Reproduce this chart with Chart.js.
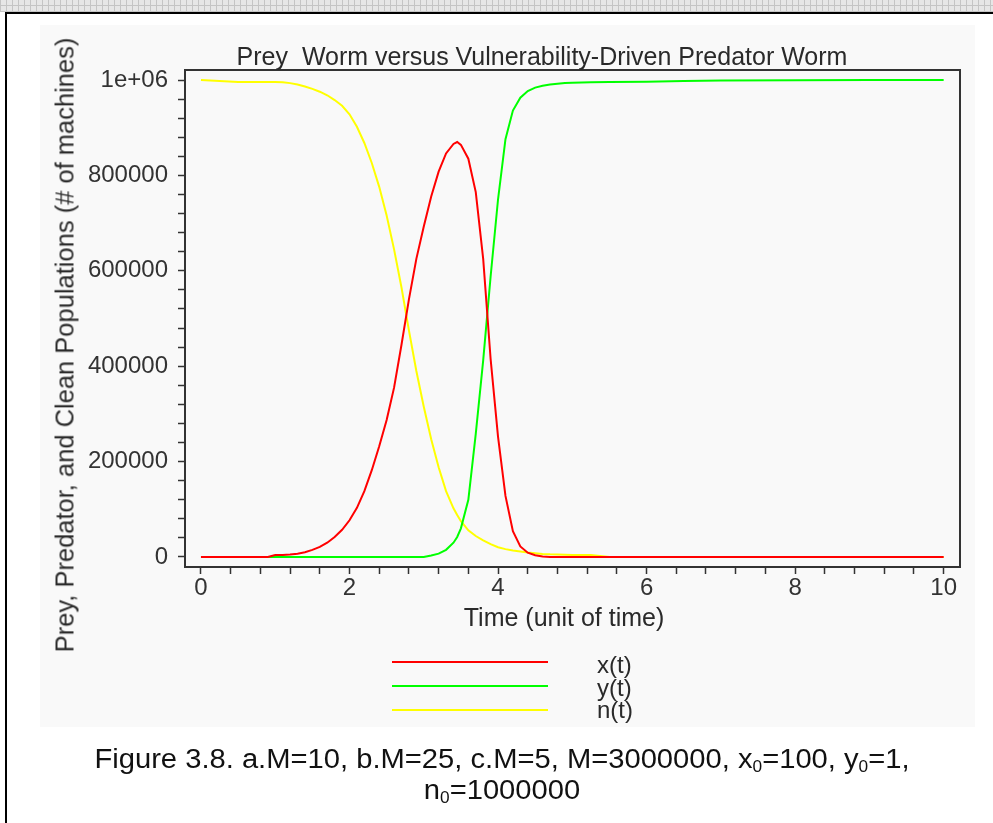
<!DOCTYPE html>
<html>
<head>
<meta charset="utf-8">
<script src="https://cdn.jsdelivr.net/npm/chart.js@4.4.1/dist/chart.umd.min.js"></script>
<style>
  html, body { margin: 0; padding: 0; background: #fff; }
  body {
    width: 993px; height: 823px; position: relative; overflow: hidden;
    font-family: "Liberation Sans", Arial, sans-serif; color: #2a2a2a;
  }
  #strip {
    position: absolute; left: 0; top: 0; width: 993px; height: 12px;
    background-color: #e6e6e6;
    background-image:
      repeating-linear-gradient(90deg, #c4c4c4 0 1px, transparent 1px 6px),
      repeating-linear-gradient(0deg, #c4c4c4 0 1px, transparent 1px 6px);
  }
  #frame {
    position: absolute; left: 5px; top: 12px; width: 1000px; height: 830px;
    border-left: 2px solid #000; border-top: 2px solid #000;
  }
  #panel { position: absolute; left: 40px; top: 25px; width: 935px; height: 702px; background: #f9f9f9; }
  canvas { position: absolute; left: 0; top: 0; }
  .txt { position: absolute; white-space: pre; transform: translate(-50%, -50%); }
  .legline { position: absolute; left: 392px; width: 156px; height: 2px; }
  .legtxt { position: absolute; left: 597px; font-size: 24px; line-height: 24px; transform: translateY(-50%); }
  .cap {
    position: absolute; left: 502px; white-space: nowrap; font-size: 27px; color: #111;
    transform: translate(-50%, -50%) scaleX(1.08);
  }
  .cap sub { font-size: 16px; vertical-align: -4px; }
</style>
</head>
<body>
<div id="strip"></div>
<div id="frame"></div>
<div id="panel"></div>
<canvas id="chart" width="993" height="823"></canvas>

<div class="txt" style="left:542px; top:56px; font-size:25px;">Prey  Worm versus Vulnerability-Driven Predator Worm</div>
<div class="txt" style="left:564px; top:617px; font-size:25px;">Time (unit of time)</div>
<div class="txt" style="left:65px; top:345px; font-size:25.5px; transform:translate(-50%,-50%) rotate(-90deg);">Prey, Predator, and Clean Populations (# of machines)</div>

<div class="legline" style="top:661px; background:#ff0000;"></div>
<div class="legline" style="top:685px; background:#00ff00;"></div>
<div class="legline" style="top:709px; background:#ffff00;"></div>
<div class="legtxt" style="top:665px;">x(t)</div>
<div class="legtxt" style="top:688px;">y(t)</div>
<div class="legtxt" style="top:710px;">n(t)</div>

<div class="cap" style="top:760px;">Figure 3.8. a.M=10, b.M=25, c.M=5, M=3000000, x<sub>0</sub>=100, y<sub>0</sub>=1,</div>
<div class="cap" style="top:791px;">n<sub>0</sub>=1000000</div>

<script>
// time points (unit of time)
const timeValues = [
  0, 0.5, 0.9, 1.0, 1.1, 1.2, 1.3, 1.4, 1.5, 1.6, 1.7, 1.8, 1.9, 2.0,
  2.1, 2.2, 2.3, 2.4, 2.5, 2.6, 2.7, 2.8, 2.9, 3.0, 3.1, 3.2, 3.3, 3.4,
  3.45, 3.5, 3.6, 3.7, 3.8, 3.9, 4.0, 4.1, 4.2, 4.3, 4.4, 4.5, 4.6, 4.7,
  4.8, 4.9, 5.0, 5.25, 5.5, 6.0, 6.5, 7.0, 8.0, 9.0, 10.0
];

// x(t) prey worm
const preyValues = [
  0, 0, 0, 4000, 4000, 5000, 7000, 10000, 15000, 21000, 30000, 42000, 57000, 77000,
  103000, 138000, 182000, 232000, 287000, 355000, 445000, 540000, 625000, 693000, 756000, 808000, 846000, 866000,
  870000, 864000, 835000, 765000, 625000, 415000, 252000, 128000, 54000, 22000, 9000, 3500, 1000, 0,
  0, 0, 0, 0, 0, 0, 0, 0, 0, 0, 0
];

// y(t) predator worm
const predatorValues = [
  0, 0, 0, 0, 0, 0, 0, 0, 0, 0, 0, 0, 0, 0,
  0, 0, 0, 0, 0, 0, 0, 0, 0, 0, 3000, 7000, 15000, 30000,
  42000, 60000, 120000, 258000, 412000, 588000, 750000, 876000, 936000, 963000, 977000, 984000, 988000, 990500,
  992000, 993500, 994500, 995500, 996000, 996500, 998000, 999000, 999500, 1000000, 1000000
];

// n(t) clean machines
const cleanValues = [
  1000000, 996000, 996000, 996000, 995500, 993500, 990500, 986500, 981500, 975500, 968000, 958000, 946000, 928000,
  902000, 868000, 826000, 776000, 716000, 645000, 565000, 475000, 390000, 315000, 247000, 188000, 138000, 102000,
  88000, 75000, 56000, 44000, 35000, 27000, 20500, 16500, 13500, 11500, 9500, 8000, 6500, 5500,
  5000, 4500, 4200, 4000, 0, 0, 0, 0, 0, 0, 0
];

const xMajorTicks = [0, 2, 4, 6, 8, 10];
const yMajorTicks = [0, 200000, 400000, 600000, 800000, 1000000];
const yTickLabels = ["0", "200000", "400000", "600000", "800000", "1e+06"];

// four minor ticks between each pair of major ticks
const withMinor = (majors) => {
  const out = [];
  for (let i = 0; i < majors.length - 1; i++) {
    const step = (majors[i + 1] - majors[i]) / 5;
    for (let k = 0; k < 5; k++) out.push(majors[i] + k * step);
  }
  out.push(majors[majors.length - 1]);
  return out;
};
const xTickValues = withMinor(xMajorTicks);
const yTickValues = withMinor(yMajorTicks);

const toPoints = (vals) => timeValues.map((t, i) => ({ x: t, y: vals[i] }));

const tickFont = { family: "'Liberation Sans', Arial, sans-serif", size: 24 };

// box around the plot area
const frameBox = {
  id: "frameBox",
  afterDraw(chart) {
    const { ctx, chartArea: a } = chart;
    ctx.save();
    ctx.strokeStyle = "#333";
    ctx.lineWidth = 2;
    ctx.strokeRect(a.left, a.top, a.right - a.left, a.bottom - a.top);
    ctx.restore();
  },
};

const ctx = document.getElementById("chart").getContext("2d");
new Chart(ctx, {
  type: "line",
  data: {
    datasets: [
      { label: "x(t)", data: toPoints(preyValues), borderColor: "#ff0000" },
      { label: "y(t)", data: toPoints(predatorValues), borderColor: "#00ff00" },
      { label: "n(t)", data: toPoints(cleanValues), borderColor: "#ffff00" },
    ],
  },
  options: {
    responsive: false,
    animation: false,
    layout: { padding: { left: 0, right: 33, top: 70, bottom: 216 } },
    elements: {
      point: { radius: 0 },
      line: { borderWidth: 2, tension: 0, fill: false },
    },
    plugins: {
      legend: { display: false },
      tooltip: { enabled: false },
    },
    scales: {
      x: {
        type: "linear",
        min: -0.215,
        max: 10.22,
        afterBuildTicks: (s) => { s.ticks = xTickValues.map((v) => ({ value: v })); },
        afterFit: (s) => { s.height = 40; },
        grid: { drawOnChartArea: false, drawTicks: true, tickLength: 7, tickWidth: 1.5, color: "#333" },
        border: { display: true, color: "#333", width: 2 },
        ticks: {
          autoSkip: false,
          maxRotation: 0,
          padding: 0,
          color: "#333",
          font: tickFont,
          callback: (v) => (xMajorTicks.includes(v) ? String(v) : ""),
        },
      },
      y: {
        type: "linear",
        min: -21000,
        max: 1021000,
        afterBuildTicks: (s) => { s.ticks = yTickValues.map((v) => ({ value: v })); },
        afterFit: (s) => { s.width = 185; },
        grid: { drawOnChartArea: false, drawTicks: true, tickLength: 7, tickWidth: 1.5, color: "#333" },
        border: { display: true, color: "#333", width: 2 },
        ticks: {
          autoSkip: false,
          padding: 10,
          color: "#333",
          font: tickFont,
          callback: (v) => {
            const i = yMajorTicks.indexOf(v);
            return i >= 0 ? yTickLabels[i] : "";
          },
        },
      },
    },
  },
  plugins: [frameBox],
});
</script>
</body>
</html>
